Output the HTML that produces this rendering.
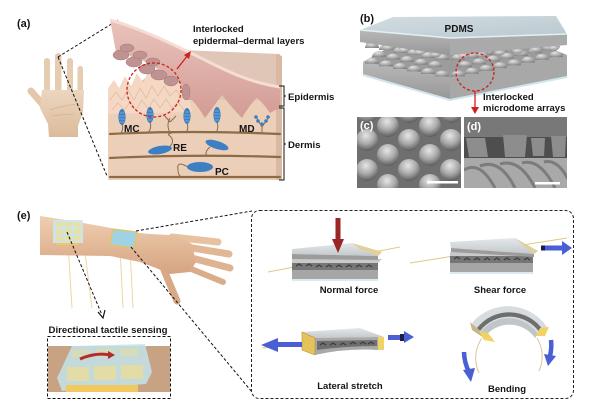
<!DOCTYPE html>
<html><head><meta charset="utf-8"><style>
html,body{margin:0;padding:0;background:#fff;}
svg{display:block;}
text{font-family:"Liberation Sans",Arial,sans-serif;font-weight:bold;fill:#151515;}
</style></head><body>
<svg width="610" height="412" viewBox="0 0 610 412" xmlns="http://www.w3.org/2000/svg">
<defs>
 <radialGradient id="dome" cx="0.4" cy="0.3" r="0.75"><stop offset="0" stop-color="#e4e4e4"/><stop offset="1" stop-color="#848484"/></radialGradient>
 <radialGradient id="sem" cx="0.45" cy="0.3" r="0.7"><stop offset="0" stop-color="#e6e6e6"/><stop offset="0.55" stop-color="#a9a9a9"/><stop offset="1" stop-color="#5c5c5c"/></radialGradient>
 <linearGradient id="skin" x1="0" y1="0" x2="0" y2="1"><stop offset="0" stop-color="#efcfb1"/><stop offset="1" stop-color="#d6a481"/></linearGradient>
 <linearGradient id="hand" x1="0" y1="0" x2="0" y2="1"><stop offset="0" stop-color="#ecd6bf"/><stop offset="1" stop-color="#dcbb9b"/></linearGradient>
 <linearGradient id="epi" x1="0" y1="0" x2="0" y2="1"><stop offset="0" stop-color="#e9c3bb"/><stop offset="1" stop-color="#d29c95"/></linearGradient>
 <linearGradient id="plate" x1="0" y1="0" x2="0" y2="1"><stop offset="0" stop-color="#e4e8ea"/><stop offset="1" stop-color="#c3c8cb"/></linearGradient>
 <linearGradient id="slabF" x1="0" y1="0" x2="0" y2="1"><stop offset="0" stop-color="#b8b8b8"/><stop offset="1" stop-color="#979797"/></linearGradient>
 <linearGradient id="topF" x1="0" y1="0" x2="1" y2="1"><stop offset="0" stop-color="#d3dde1"/><stop offset="1" stop-color="#b9c9d0"/></linearGradient>
 <clipPath id="cC"><rect x="357" y="117" width="104" height="71"/></clipPath>
 <clipPath id="cD"><rect x="464" y="117" width="103" height="71"/></clipPath>
</defs>

<!-- ============ (a) ============ -->
<text x="17" y="27" font-size="11">(a)</text>
<!-- hand -->
<g fill="#e6ccb1">
 <rect x="44" y="58" width="6" height="38" rx="3"/>
 <rect x="55" y="53" width="6.5" height="42" rx="3.2"/>
 <rect x="67" y="58" width="6" height="38" rx="3"/>
 <rect x="77.5" y="66" width="5.5" height="32" rx="2.7"/>
</g>
<line x1="44" y1="106" x2="31" y2="91" stroke="#e3c7ab" stroke-width="7" stroke-linecap="round"/>
<path d="M42,90 L84,90 L83,112 L78,126 L78,137 L49,137 L48,124 L40,108 Z" fill="url(#hand)"/>
<path d="M50,110 Q62,106 76,104 M52,116 Q64,114 74,114" stroke="#cfa98a" stroke-width="0.6" fill="none"/>
<!-- dashed zoom lines -->
<g stroke="#111" stroke-width="1" stroke-dasharray="3,2" fill="none">
 <line x1="58" y1="57" x2="118" y2="20"/>
 <line x1="58" y1="57" x2="107" y2="176"/>
</g>
<!-- skin block -->
<polygon points="108,108 180,50 280,54 280,180 108,180" fill="#dfc6b6"/>
<rect x="108" y="100" width="172" height="80" fill="#eccfb9"/>
<polygon points="276,54 282,56 282,180 276,180" fill="#d9b9a2"/>
<!-- peach bumps -->
<path d="M108,114 L108,88 L114,80 L119,88 L125,76 L131,86 L137,73 L143,83 L149,70 L155,80 L161,70 L167,80 L173,74 L179,84 L186,80 L192,112 Z" fill="#f5d8c4"/>
<g stroke="#e2bba2" stroke-width="0.8" fill="none">
 <path d="M110,100 L116,92 L122,100 L128,90 L134,100 L140,88 L146,98 L152,86 L158,96 L164,86 L170,96 L176,90 L182,98 L188,94"/>
 <path d="M112,110 L118,103 L124,110 L130,102 L136,110 L142,100 L148,109 L154,99 L160,108 L166,99 L172,108 L178,102 L184,110"/>
</g>
<!-- epidermis -->
<path d="M110,20 C140,28 172,44 205,60 C236,76 258,84 280,87 L280,108 Q275,110 270,113 Q264,104 257,98 Q250,104 242,118 Q232,108 222,95 Q214,106 205,118 Q199,108 192,100 L186,100 L182,86 Q176,76 168,78 Q162,66 152,68 Q144,58 134,60 Q126,50 116,52 Z" fill="url(#epi)"/>
<path d="M110,20 C140,28 172,44 205,60 C236,76 258,84 280,87" stroke="#f6ddd3" stroke-width="3" fill="none"/>
<g fill="#bf9391" stroke="#a37775" stroke-width="0.5">
 <ellipse cx="121" cy="55" rx="8" ry="5"/>
 <ellipse cx="134" cy="62" rx="8" ry="5"/>
 <ellipse cx="147" cy="69" rx="8" ry="5"/>
 <ellipse cx="159" cy="75" rx="8" ry="5"/>
 <ellipse cx="171" cy="81" rx="7" ry="5"/>
 <ellipse cx="127" cy="48" rx="7" ry="4"/>
 <ellipse cx="140" cy="55" rx="7" ry="4"/>
 <ellipse cx="153" cy="62" rx="7" ry="4"/>
 <ellipse cx="186" cy="92" rx="4" ry="8"/>
</g>
<!-- fibers -->
<g stroke="#8c6c47" stroke-width="2.2" fill="none" stroke-linecap="round">
 <path d="M110,134 Q190,130 280,134"/>
 <path d="M110,158 Q190,154 280,157"/>
 <path d="M110,177 L280,177"/>
</g>
<g stroke="#8c6c47" stroke-width="1" fill="none">
 <path d="M122,124 Q124,130 120,134"/>
 <path d="M150,122 Q152,128 148,133"/>
 <path d="M187,123 Q189,128 186,133"/>
 <path d="M217,122 Q219,128 216,133"/>
 <path d="M170,133 Q166,125 170,118 M170,122 L164,115 M170,122 L176,116"/>
 <path d="M168,148 Q176,142 170,136 Q166,134 172,133"/>
 <path d="M210,147 Q204,152 207,157"/>
 <path d="M188,167 Q176,160 178,170 Q178,176 182,177"/>
 <path d="M262,126 L262,133 M256,117 L262,127 L269,117"/>
</g>
<g fill="#3d7fc3">
 <ellipse cx="122" cy="117" rx="3.6" ry="8"/>
 <ellipse cx="150" cy="115" rx="3.6" ry="8"/>
 <ellipse cx="187" cy="116" rx="3.6" ry="8"/>
 <ellipse cx="217" cy="115" rx="3.6" ry="8"/>
 <ellipse cx="160" cy="150" rx="12" ry="4" transform="rotate(-10 160 150)"/>
 <ellipse cx="217" cy="145" rx="12" ry="4" transform="rotate(18 217 145)"/>
 <ellipse cx="200" cy="167" rx="13" ry="5"/>
 <circle cx="256" cy="117" r="1.8"/><circle cx="258" cy="121" r="1.8"/><circle cx="262" cy="124" r="1.8"/><circle cx="266" cy="121" r="1.8"/><circle cx="268" cy="117" r="1.8"/>
</g>
<g stroke="#a9d0f0" stroke-width="0.6">
 <path d="M120,113 L124,113 M119,116 L125,116 M119,119 L125,119 M120,122 L124,122"/>
 <path d="M148,111 L152,111 M147,114 L153,114 M147,117 L153,117 M148,120 L152,120"/>
 <path d="M185,112 L189,112 M184,115 L190,115 M184,118 L190,118 M185,121 L189,121"/>
 <path d="M215,111 L219,111 M214,114 L220,114 M214,117 L220,117 M215,120 L219,120"/>
</g>
<!-- red circle & arrow -->
<circle cx="154" cy="90" r="27" fill="none" stroke="#d01f1f" stroke-width="1.3" stroke-dasharray="3,2"/>
<line x1="177" y1="69" x2="188" y2="55" stroke="#d01f1f" stroke-width="1.3"/>
<polygon points="191,51 184,55 189,59" fill="#d01f1f"/>
<text x="193" y="32" font-size="9.5">Interlocked</text>
<text x="193" y="44" font-size="9.5">epidermal–dermal layers</text>
<path d="M279,86 L284,86 L284,106 L279,106 M284,96 L286,96" stroke="#111" stroke-width="1" fill="none"/>
<path d="M279,108 L284,108 L284,180 L279,180 M284,144 L286,144" stroke="#111" stroke-width="1" fill="none"/>
<text x="288" y="100" font-size="9.6">Epidermis</text>
<text x="288" y="148" font-size="9.6">Dermis</text>
<text x="124" y="132" font-size="10">MC</text>
<text x="173" y="151" font-size="10">RE</text>
<text x="215" y="175" font-size="10">PC</text>
<text x="239" y="132" font-size="10">MD</text>

<!-- ============ (b) ============ -->
<text x="360" y="22" font-size="11">(b)</text>
<!-- bottom slab -->
<polygon points="363,62 450,78 567,55 540,44 395,44" fill="#9c9c9c"/>
<polygon points="363,62 450,78 450,100 363,75" fill="url(#slabF)"/>
<polygon points="450,78 567,55 567,77 450,100" fill="#a8a8a8"/>
<path d="M363,75 L450,100 L567,77" stroke="#cfe6ee" stroke-width="2" fill="none"/>
<!-- domes -->
<g fill="url(#dome)">
 <path d="M365,48 a7,6 0 0 1 14,0z"/><path d="M379,50 a7,6 0 0 1 14,0z"/><path d="M393,53 a7,6 0 0 1 14,0z"/><path d="M407,55 a7,6 0 0 1 14,0z"/><path d="M421,58 a7,6 0 0 1 14,0z"/><path d="M435,60 a7,6 0 0 1 14,0z"/>
 <path d="M451,60 a7,6 0 0 1 14,0z"/><path d="M465,58 a7,6 0 0 1 14,0z"/><path d="M479,55 a7,6 0 0 1 14,0z"/><path d="M493,52 a7,6 0 0 1 14,0z"/><path d="M507,49 a7,6 0 0 1 14,0z"/><path d="M521,47 a7,6 0 0 1 14,0z"/>
 <path d="M372,57 a7,6 0 0 1 14,0z"/><path d="M386,59.5 a7,6 0 0 1 14,0z"/><path d="M400,62 a7,6 0 0 1 14,0z"/><path d="M414,64.7 a7,6 0 0 1 14,0z"/><path d="M428,67 a7,6 0 0 1 14,0z"/>
 <path d="M458,67 a7,6 0 0 1 14,0z"/><path d="M472,64.3 a7,6 0 0 1 14,0z"/><path d="M486,61.5 a7,6 0 0 1 14,0z"/><path d="M500,58.8 a7,6 0 0 1 14,0z"/><path d="M514,56 a7,6 0 0 1 14,0z"/><path d="M528,53.3 a7,6 0 0 1 14,0z"/><path d="M542,50.5 a7,6 0 0 1 14,0z"/>
 <path d="M365,63.7 a7,6 0 0 1 14,0z"/><path d="M379,66.3 a7,6 0 0 1 14,0z"/><path d="M393,68.9 a7,6 0 0 1 14,0z"/><path d="M407,71.4 a7,6 0 0 1 14,0z"/><path d="M421,74 a7,6 0 0 1 14,0z"/><path d="M435,76.5 a7,6 0 0 1 14,0z"/>
 <path d="M451,76.4 a7,6 0 0 1 14,0z"/><path d="M465,73.7 a7,6 0 0 1 14,0z"/><path d="M479,70.9 a7,6 0 0 1 14,0z"/><path d="M493,68.1 a7,6 0 0 1 14,0z"/><path d="M507,65.4 a7,6 0 0 1 14,0z"/><path d="M521,62.6 a7,6 0 0 1 14,0z"/><path d="M535,59.8 a7,6 0 0 1 14,0z"/><path d="M549,57.1 a7,6 0 0 1 14,0z"/>
</g>
<!-- hanging domes of top slab -->
<g fill="url(#dome)">
 <path d="M366,43 a6,5 0 0 0 12,0z"/><path d="M382,45.3 a6,5 0 0 0 12,0z"/><path d="M398,47.6 a6,5 0 0 0 12,0z"/><path d="M414,50 a6,5 0 0 0 12,0z"/><path d="M430,52.3 a6,5 0 0 0 12,0z"/>
 <path d="M458,53.5 a6,5 0 0 0 12,0z"/><path d="M476,52 a6,5 0 0 0 12,0z"/><path d="M494,50.4 a6,5 0 0 0 12,0z"/><path d="M512,48.8 a6,5 0 0 0 12,0z"/><path d="M530,47.3 a6,5 0 0 0 12,0z"/><path d="M548,45.7 a6,5 0 0 0 12,0z"/>
</g>
<!-- top slab -->
<polygon points="360,30 450,38 450,55 360,42" fill="url(#slabF)"/>
<polygon points="450,38 567,34 567,45 450,55" fill="#aaaaaa"/>
<polygon points="360,30 393,17 556,16 567,34 450,38" fill="url(#topF)"/>
<path d="M360,30 L450,38 L567,34" stroke="#e2f0f4" stroke-width="1.5" fill="none"/>
<text x="459" y="32" font-size="10" text-anchor="middle">PDMS</text>
<circle cx="475" cy="72" r="19" fill="none" stroke="#d01f1f" stroke-width="1.3" stroke-dasharray="3,2"/>
<line x1="475" y1="91" x2="475" y2="109" stroke="#d01f1f" stroke-width="1.3"/>
<polygon points="471,107 479,107 475,114" fill="#d01f1f"/>
<text x="483" y="100" font-size="9.5">Interlocked</text>
<text x="483" y="111" font-size="9.5">microdome arrays</text>

<!-- (c) SEM -->
<g clip-path="url(#cC)">
 <rect x="357" y="117" width="104" height="71" fill="#6f6f6f"/>
 <g fill="url(#sem)">
  <circle cx="367" cy="112" r="11"/><circle cx="409" cy="112" r="11"/><circle cx="451" cy="112" r="11"/>
  <circle cx="388" cy="126" r="11"/><circle cx="430" cy="126" r="11"/><circle cx="472" cy="126" r="11"/><circle cx="346" cy="126" r="11"/>
  <circle cx="367" cy="140" r="11"/><circle cx="409" cy="140" r="11"/><circle cx="451" cy="140" r="11"/>
  <circle cx="388" cy="155" r="11"/><circle cx="430" cy="155" r="11"/><circle cx="472" cy="155" r="11"/><circle cx="346" cy="155" r="11"/>
  <circle cx="367" cy="170" r="11"/><circle cx="409" cy="170" r="11"/><circle cx="451" cy="170" r="11"/>
  <circle cx="388" cy="185" r="11"/><circle cx="430" cy="185" r="11"/><circle cx="346" cy="185" r="11"/><circle cx="472" cy="185" r="11"/>
 </g>
 <rect x="427" y="181" width="31" height="2.5" fill="#fff"/>
</g>
<text x="360" y="129" font-size="11" style="fill:#fff">(c)</text>
<!-- (d) SEM -->
<g clip-path="url(#cD)">
 <rect x="464" y="117" width="103" height="71" fill="#787878"/>
 <rect x="464" y="137" width="103" height="22" fill="#4e4e4e"/>
 <g fill="#8d8d8d">
  <polygon points="466,138 485,138 488,157 469,157"/>
  <polygon points="503,135 527,135 525,157 505,157"/>
  <polygon points="531,138 545,138 544,156 533,156"/>
  <polygon points="551,136 566,136 565,157 553,157"/>
 </g>
 <rect x="464" y="158" width="103" height="30" fill="#a9a9a9"/>
 <g stroke="#7c7c7c" stroke-width="3" fill="none">
  <path d="M464,170 Q480,160 495,188"/><path d="M480,166 Q500,158 515,188"/><path d="M500,164 Q520,158 535,188"/><path d="M522,163 Q540,158 555,188"/><path d="M544,162 Q560,158 572,188"/>
 </g>
 <rect x="535" y="182" width="25" height="2.5" fill="#fff"/>
</g>
<text x="467" y="130" font-size="11" style="fill:#fff">(d)</text>

<!-- ============ (e) ============ -->
<text x="17" y="219" font-size="11">(e)</text>
<!-- hanging wires -->
<g stroke="#ecd7a4" stroke-width="1">
 <line x1="68" y1="244" x2="72" y2="308"/><line x1="84" y1="245" x2="92" y2="308"/>
 <line x1="120" y1="248" x2="123" y2="308"/><line x1="130" y1="248" x2="133" y2="308"/>
</g>
<!-- arm -->
<g stroke-linecap="round" fill="none">
 <line x1="172" y1="237" x2="218" y2="242" stroke="#e8c2a0" stroke-width="7"/>
 <line x1="180" y1="246" x2="229" y2="254" stroke="#e2b795" stroke-width="7"/>
 <line x1="184" y1="256" x2="230" y2="268" stroke="#dfb290" stroke-width="7"/>
 <line x1="184" y1="266" x2="223" y2="282" stroke="#dbac89" stroke-width="6"/>
 <line x1="164" y1="270" x2="177" y2="301" stroke="#d8a987" stroke-width="7"/>
</g>
<path d="M40,216 C80,222 110,228 133,232 C150,235 165,234 178,236 L192,244 L196,262 L190,272 L170,274 L156,268 L140,262 L110,256 L40,255 Z" fill="url(#skin)"/>
<!-- forearm sensor -->
<rect x="53" y="220" width="30" height="23" fill="#c9e8ef" opacity="0.9"/>
<g fill="#e9e0a4">
 <rect x="56" y="222" width="7" height="5"/><rect x="65" y="222" width="7" height="5"/><rect x="74" y="222" width="7" height="5"/>
 <rect x="56" y="229" width="7" height="5"/><rect x="65" y="229" width="7" height="5"/><rect x="74" y="229" width="7" height="5"/>
 <rect x="56" y="236" width="7" height="5"/><rect x="65" y="236" width="7" height="5"/><rect x="74" y="236" width="7" height="5"/>
</g>
<rect x="56" y="243" width="22" height="2" fill="#f0c860"/>
<!-- wrist patch -->
<polygon points="113,229 137,232 134,248 110,245" fill="#9fd2e2" stroke="#e5c45c" stroke-width="1.2"/>
<!-- dashed arrow -->
<g stroke="#111" stroke-width="1" stroke-dasharray="3,2" fill="none">
 <line x1="67" y1="232" x2="102" y2="315"/>
 <line x1="136" y1="231" x2="252" y2="211"/>
 <line x1="131" y1="247" x2="252" y2="392"/>
</g>
<path d="M98,312 L103,318 L105,310" stroke="#111" stroke-width="1.2" fill="none"/>
<text x="108" y="333" font-size="9.6" text-anchor="middle">Directional tactile sensing</text>
<!-- small box -->
<rect x="48" y="346" width="122" height="46" fill="#c7a283"/>
<polygon points="72,346 145,344 152,372 146,384 62,391 57,378" fill="#c3e4ea" opacity="0.85"/>
<g fill="#e3dca6">
 <rect x="67" y="367" width="22" height="14"/><rect x="94" y="366" width="22" height="14"/><rect x="121" y="365" width="22" height="14"/>
 <rect x="72" y="350" width="18" height="8" opacity="0.6"/><rect x="96" y="349" width="18" height="8" opacity="0.6"/><rect x="120" y="348" width="18" height="8" opacity="0.6"/>
</g>
<rect x="66" y="385" width="72" height="7" fill="#f1c95e"/>
<path d="M80,359 Q96,352 110,355" stroke="#b52a2a" stroke-width="3" fill="none"/>
<polygon points="108,351 115,355 108,359" fill="#b52a2a"/>
<rect x="47.5" y="336.5" width="123" height="62" fill="none" stroke="#111" stroke-width="1" stroke-dasharray="3,2"/>
<!-- big dashed box -->
<rect x="251.5" y="210.5" width="322" height="188" rx="8" fill="none" stroke="#222" stroke-width="1" stroke-dasharray="3,2"/>

<!-- Normal force device -->
<line x1="268" y1="272" x2="400" y2="247" stroke="#e2c68a" stroke-width="1"/>
<polygon points="292,259 300,256 382,259 378,263 292,263" fill="#c9c9c9"/>
<rect x="292" y="263" width="86" height="7" fill="#767676"/>
<path d="M296,266 l3,-2 l3,2 M306,266 l3,-2 l3,2 M316,267 l3,-2 l3,2 M326,267 l3,-2 l3,2 M336,267 l3,-2 l3,2 M346,267 l3,-2 l3,2 M356,267 l3,-2 l3,2 M366,267 l3,-2 l3,2" stroke="#3e3e3e" stroke-width="1.2" fill="none"/>
<rect x="292" y="270" width="86" height="9" fill="#a6a6a6"/>
<line x1="292" y1="280" x2="378" y2="280" stroke="#cfe4ea" stroke-width="1.5"/>
<polygon points="292,249 352,243 382,252 378,256 292,254" fill="url(#plate)"/>
<polygon points="352,243 382,252 378,256 360,249" fill="#e2cf9a"/>
<polygon points="292,254 378,256 378,260 292,259" fill="#9c9c9c"/>
<rect x="335.5" y="218" width="5" height="24" fill="#9b2626"/>
<polygon points="332,239 344,239 338,253" fill="#9b2626"/>
<text x="349" y="293" font-size="9.5" text-anchor="middle">Normal force</text>

<!-- Shear force device -->
<line x1="410" y1="263" x2="567" y2="238" stroke="#e2c68a" stroke-width="1"/>
<polygon points="450,252 533,252 530,256 450,256" fill="#c9c9c9"/>
<rect x="450" y="256" width="83" height="7" fill="#767676"/>
<path d="M454,259 l3,-2 l3,2 M464,260 l3,-2 l3,2 M474,260 l3,-2 l3,2 M484,260 l3,-2 l3,2 M494,260 l3,-2 l3,2 M504,260 l3,-2 l3,2 M514,260 l3,-2 l3,2 M524,260 l3,-2 l3,2" stroke="#3e3e3e" stroke-width="1.2" fill="none"/>
<rect x="450" y="263" width="83" height="9" fill="#a6a6a6"/>
<line x1="450" y1="273" x2="533" y2="273" stroke="#cfe4ea" stroke-width="1.5"/>
<polygon points="450,242 515,238 538,251 534,254 451,248" fill="url(#plate)"/>
<polygon points="515,238 538,251 534,254 522,244" fill="#e2cf9a"/>
<polygon points="451,248 534,254 534,257 451,252" fill="#9c9c9c"/>
<rect x="541" y="245.5" width="22" height="5" fill="#4a5fd3"/>
<rect x="541" y="245.5" width="4" height="5" fill="#1d1d4a"/>
<polygon points="562,241 572,248 562,255" fill="#4a5fd3"/>
<text x="500" y="293" font-size="9.5" text-anchor="middle">Shear force</text>

<!-- Lateral stretch device -->
<line x1="262" y1="348" x2="300" y2="344" stroke="#e2c68a" stroke-width="1"/>
<polygon points="302,332 360,328 384,337 315,338" fill="url(#plate)"/>
<path d="M315,338 L378,337 L378,350 Q346,348 315,355 Z" fill="#a9a9a9"/>
<path d="M317,341 L377,340 L377,346 Q346,346 317,350 Z" fill="#6e6e6e"/>
<path d="M320,345 l3,-2 l3,2 M330,345 l3,-2 l3,2 M340,345 l3,-2 l3,2 M350,344 l3,-2 l3,2 M360,344 l3,-2 l3,2 M368,344 l3,-2 l3,2" stroke="#3a3a3a" stroke-width="1.1" fill="none"/>
<polygon points="302,332 315,338 315,355 302,350" fill="#e6c35a" stroke="#b8902e" stroke-width="0.6"/>
<polygon points="378,337 384,337 384,350 378,350" fill="#f0d363"/>
<rect x="276" y="342" width="26" height="5" fill="#4a5fd3"/>
<polygon points="278,338 261,345 278,352" fill="#4a5fd3"/>
<rect x="388" y="335" width="17" height="5" fill="#4a5fd3"/>
<rect x="400" y="334" width="5" height="7" fill="#1d1d4a"/>
<polygon points="404,331 414,337 404,343" fill="#4a5fd3"/>
<text x="350" y="389" font-size="9.5" text-anchor="middle">Lateral stretch</text>

<!-- Bending device -->
<path d="M482,338 A35,35 0 0 0 479,373" stroke="#dcc494" stroke-width="1" fill="none"/>
<path d="M537,338 A35,35 0 0 1 539,371" stroke="#dcc494" stroke-width="1" fill="none"/>
<path d="M472,323 A47,47 0 0 1 547,327 L538,334 A35,35 0 0 0 480,333 Z" fill="#d6dcdf"/>
<path d="M477,328 A41,41 0 0 1 543,330 L540,333 A37,37 0 0 0 480,331 Z" fill="#6e6e6e"/>
<path d="M480,333 A35,35 0 0 1 538,334 L535,338 A31,31 0 0 0 484,338 Z" fill="#bfc5c8"/>
<polygon points="470,322 477,328 484,338 472,330" fill="#c8b48a"/>
<polygon points="479,331 488,333 495,342 484,340" fill="#f0d363"/>
<polygon points="540,328 549,327 545,336 536,336" fill="#f0d363"/>
<path d="M464,352 A47,47 0 0 0 469,372" stroke="#4a5fd3" stroke-width="4.5" fill="none"/>
<polygon points="463,370 475,368 471,382" fill="#4a5fd3"/>
<path d="M551,340 A45,45 0 0 1 550,356" stroke="#4a5fd3" stroke-width="4.5" fill="none"/>
<polygon points="544,354 556,356 548,366" fill="#4a5fd3"/>
<text x="507" y="392" font-size="9.5" text-anchor="middle">Bending</text>
</svg>
</body></html>
